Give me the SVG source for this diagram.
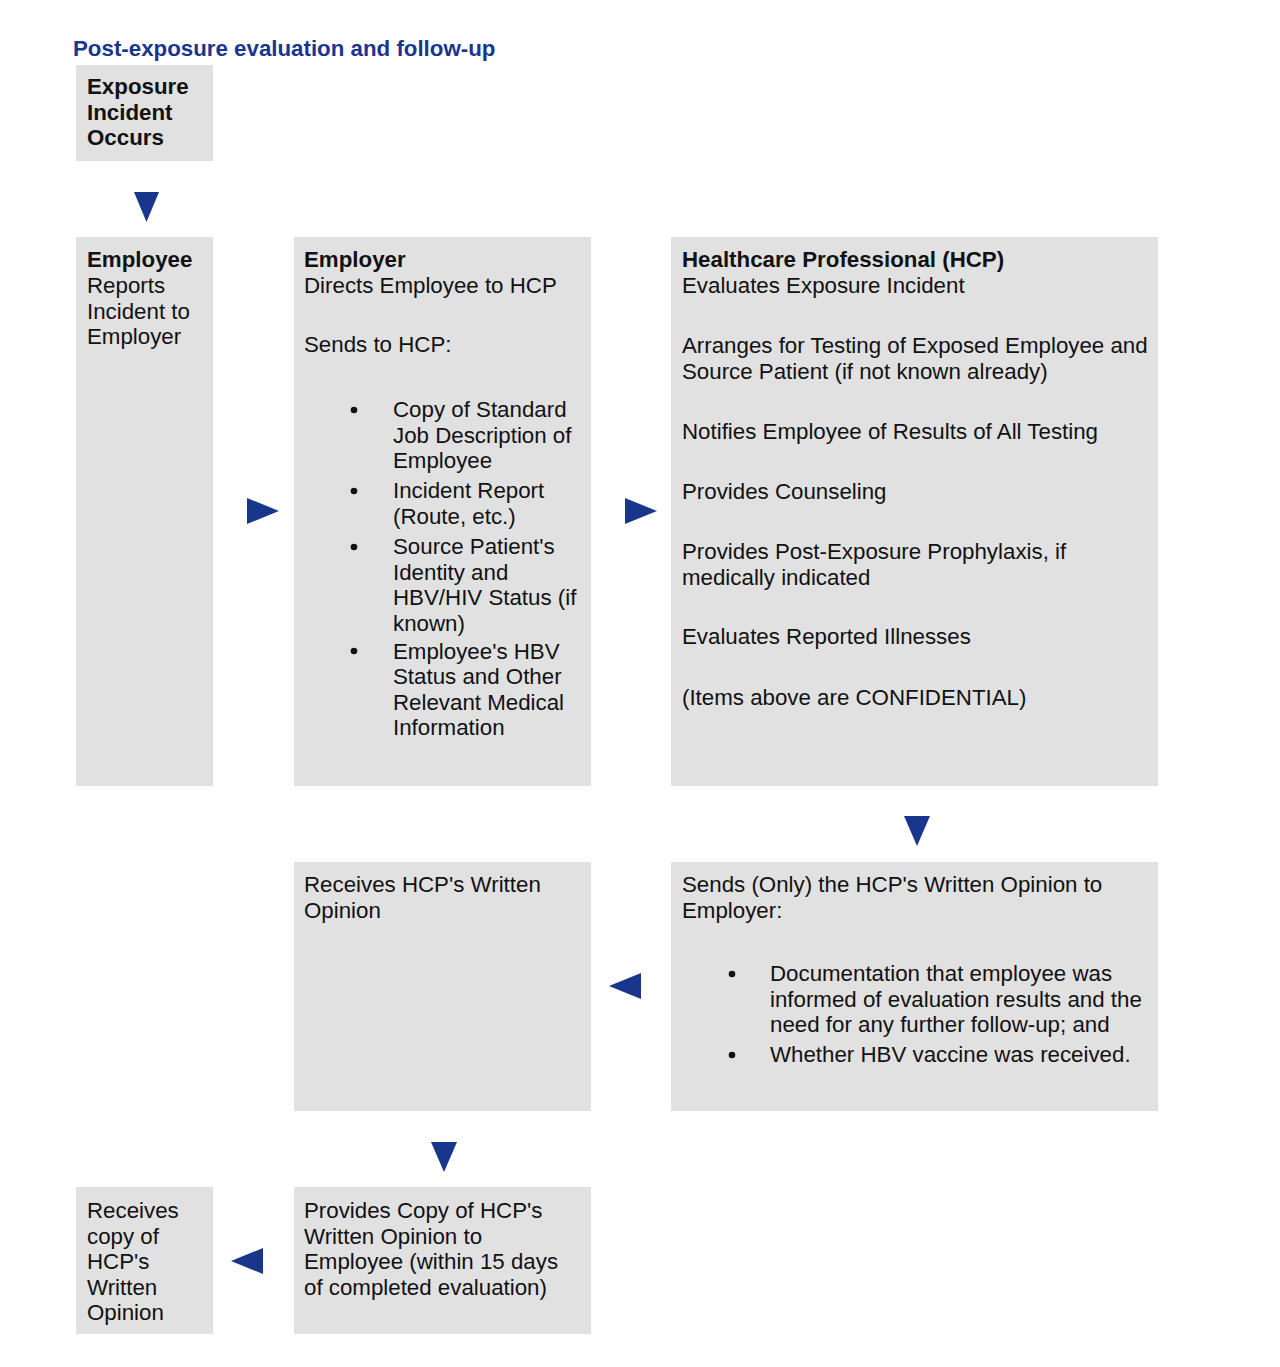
<svg xmlns="http://www.w3.org/2000/svg" width="1280" height="1367" viewBox="0 0 1280 1367">
<style>
  .bg { fill: #ffffff; }
  .box { fill: #e1e1e1; }
  text { font-family: "Liberation Sans", Arial, Helvetica, sans-serif; font-size: 22.3px; fill: #111111; }
  .b { font-weight: bold; }
  .title { font-weight: bold; fill: #1a3590; }
  .arrow { fill: #17368c; }
  .dot { fill: #111111; }
</style>
<rect class="bg" x="0" y="0" width="1280" height="1367"/>
<text class="title" x="73" y="56">Post-exposure evaluation and follow-up</text>

<g id="node-exposure">
  <rect class="box" x="76" y="65" width="137" height="96"/>
  <text class="b" x="87" y="94">Exposure</text>
  <text class="b" x="87" y="119.5">Incident</text>
  <text class="b" x="87" y="145">Occurs</text>
</g>

<g id="node-employee">
  <rect class="box" x="76" y="237" width="137" height="549"/>
  <text class="b" x="87" y="266.5">Employee</text>
  <text x="87" y="293">Reports</text>
  <text x="87" y="318.5">Incident to</text>
  <text x="87" y="344">Employer</text>
</g>

<g id="node-employer">
  <rect class="box" x="294" y="237" width="297" height="549"/>
  <text class="b" x="304" y="266.5">Employer</text>
  <text x="304" y="293">Directs Employee to HCP</text>
  <text x="304" y="352">Sends to HCP:</text>
  <circle class="dot" cx="354" cy="410" r="3.3"/>
  <text x="393" y="417">Copy of Standard</text>
  <text x="393" y="442.5">Job Description of</text>
  <text x="393" y="468">Employee</text>
  <circle class="dot" cx="354" cy="491" r="3.3"/>
  <text x="393" y="498">Incident Report</text>
  <text x="393" y="523.5">(Route, etc.)</text>
  <circle class="dot" cx="354" cy="547" r="3.3"/>
  <text x="393" y="554">Source Patient's</text>
  <text x="393" y="579.5">Identity and</text>
  <text x="393" y="605">HBV/HIV Status (if</text>
  <text x="393" y="630.5">known)</text>
  <circle class="dot" cx="354" cy="651" r="3.3"/>
  <text x="393" y="658.5">Employee's HBV</text>
  <text x="393" y="684">Status and Other</text>
  <text x="393" y="709.5">Relevant Medical</text>
  <text x="393" y="735">Information</text>
</g>

<g id="node-hcp">
  <rect class="box" x="671" y="237" width="487" height="549"/>
  <text class="b" x="682" y="266.5">Healthcare Professional (HCP)</text>
  <text x="682" y="293">Evaluates Exposure Incident</text>
  <text x="682" y="353">Arranges for Testing of Exposed Employee and</text>
  <text x="682" y="378.5">Source Patient (if not known already)</text>
  <text x="682" y="438.5">Notifies Employee of Results of All Testing</text>
  <text x="682" y="498.5">Provides Counseling</text>
  <text x="682" y="559">Provides Post-Exposure Prophylaxis, if</text>
  <text x="682" y="584.5">medically indicated</text>
  <text x="682" y="644">Evaluates Reported Illnesses</text>
  <text x="682" y="704.5">(Items above are CONFIDENTIAL)</text>
</g>

<g id="node-employer-receives">
  <rect class="box" x="294" y="862" width="297" height="249"/>
  <text x="304" y="892">Receives HCP's Written</text>
  <text x="304" y="918">Opinion</text>
</g>

<g id="node-hcp-sends">
  <rect class="box" x="671" y="862" width="487" height="249"/>
  <text x="682" y="892">Sends (Only) the HCP's Written Opinion to</text>
  <text x="682" y="918">Employer:</text>
  <circle class="dot" cx="732" cy="974" r="3.3"/>
  <text x="770" y="981">Documentation that employee was</text>
  <text x="770" y="1006.5">informed of evaluation results and the</text>
  <text x="770" y="1032">need for any further follow-up; and</text>
  <circle class="dot" cx="732" cy="1055" r="3.3"/>
  <text x="770" y="1062">Whether HBV vaccine was received.</text>
</g>

<g id="node-employee-receives">
  <rect class="box" x="76" y="1187" width="137" height="147"/>
  <text x="87" y="1218">Receives</text>
  <text x="87" y="1243.5">copy of</text>
  <text x="87" y="1269">HCP's</text>
  <text x="87" y="1294.5">Written</text>
  <text x="87" y="1320">Opinion</text>
</g>

<g id="node-employer-provides">
  <rect class="box" x="294" y="1187" width="297" height="147"/>
  <text x="304" y="1218">Provides Copy of HCP's</text>
  <text x="304" y="1243.5">Written Opinion to</text>
  <text x="304" y="1269">Employee (within 15 days</text>
  <text x="304" y="1294.5">of completed evaluation)</text>
</g>

<g id="connectors">
  <polygon class="arrow" points="134,192 159,192 146.5,222"/>
  <polygon class="arrow" points="247,498 247,524 279,511"/>
  <polygon class="arrow" points="625,498 625,524 657,511"/>
  <polygon class="arrow" points="904,816 930,816 917,846"/>
  <polygon class="arrow" points="641,973 641,999 609,986"/>
  <polygon class="arrow" points="431,1142 457,1142 444,1172"/>
  <polygon class="arrow" points="263,1248 263,1274 231,1261"/>
</g>
</svg>
